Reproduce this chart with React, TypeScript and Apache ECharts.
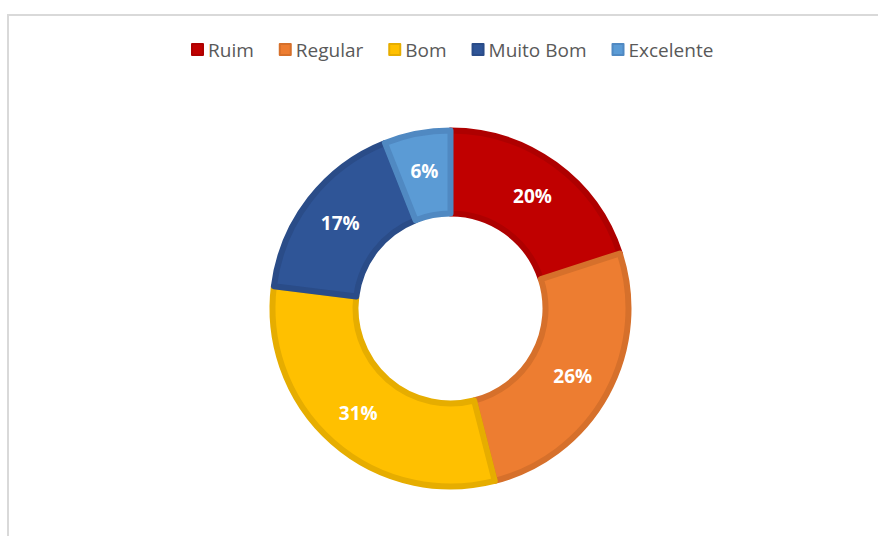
import React, { useEffect, useRef } from "react";
import * as echarts from "echarts";

const categories = ["Ruim", "Regular", "Bom", "Muito Bom", "Excelente"];
const values = [20, 26, 31, 17, 6];
const fillColors = ["#C00000", "#ED7D31", "#FFC000", "#2F5597", "#5B9BD5"];
const borderColors = ["#AE0000", "#D6702B", "#E6AD00", "#2A4C88", "#5089C2"];

export default function App() {
  const ref = useRef<HTMLDivElement>(null);
  useEffect(() => {
    if (!ref.current) return;
    const chart = echarts.init(ref.current, undefined, { renderer: "svg" });
    chart.setOption({
      animation: false,
      backgroundColor: "#ffffff",
      graphic: [
        {
          type: "rect",
          shape: { x: 8, y: 15, width: 900, height: 560 },
          style: { fill: "none", stroke: "#d9d9d9", lineWidth: 2 },
          silent: true,
        },
      ],
      legend: {
        top: 35,
        left: 186,
        itemWidth: 11,
        itemHeight: 11,
        itemGap: 25,
        icon: "rect",
        textStyle: { color: "#595959", fontSize: 19, fontFamily: "Open Sans" },
        data: categories,
      },
      series: [
        {
          type: "pie",
          center: [450.5, 308.5],
          radius: [95, 178],
          startAngle: 90,
          clockwise: true,
          avoidLabelOverlap: false,
          label: {
            show: true,
            position: "inside",
            color: "#ffffff",
            fontWeight: "bold",
            fontSize: 19,
            fontFamily: "Open Sans",
            formatter: (p: any) => `${p.value}%`,
          },
          labelLine: { show: false },
          data: categories.map((name, i) => ({
            name,
            value: values[i],
            itemStyle: {
              color: fillColors[i],
              borderColor: borderColors[i],
              borderWidth: 6,
            },
          })),
        },
      ],
    });
    return () => chart.dispose();
  }, []);
  return (
    <div
      ref={ref}
      style={{ position: "fixed", left: 0, top: 0, width: 878, height: 536 }}
    />
  );
}
